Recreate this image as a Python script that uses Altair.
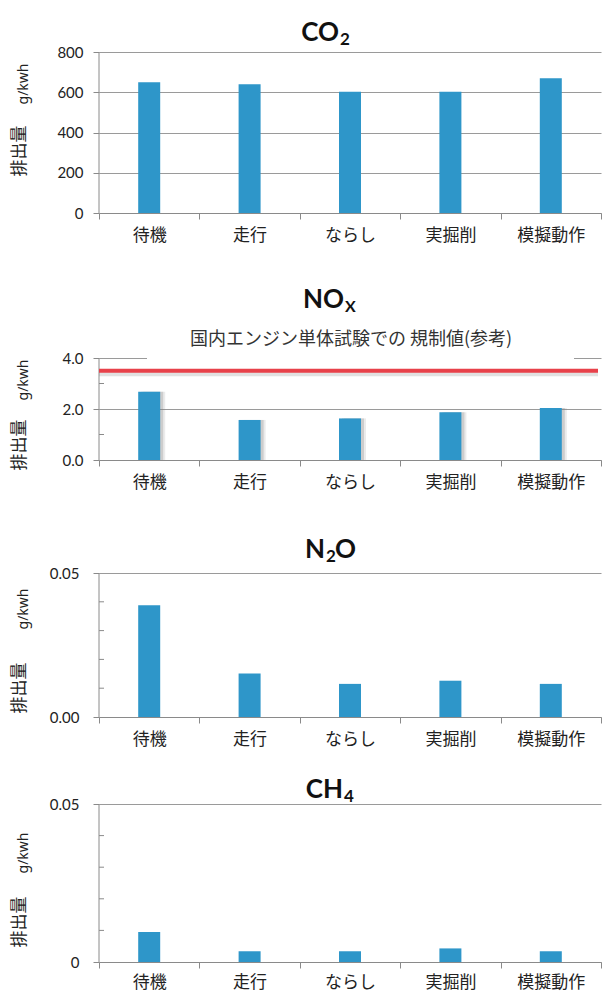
import altair as alt
import pandas as pd

# ---------------- data ----------------
categories = ["待機", "走行", "ならし", "実掘削", "模擬動作"]
co2_values = [650, 640, 603, 603, 670]
nox_values = [2.68, 1.57, 1.63, 1.87, 2.04]
n2o_values = [0.0388, 0.0151, 0.0115, 0.0126, 0.0115]
ch4_values = [0.0095, 0.0034, 0.0034, 0.0043, 0.0034]
nox_limit = [3.5]
nox_limit_label = "国内エンジン単体試験での 規制値(参考)"

co2_ticks = [0, 200, 400, 600, 800]
nox_ticks = [0, 2, 4]
nox_minor = [1, 3]
small_ticks = [0, 0.05]
small_minor = [0.01, 0.02, 0.03, 0.04]

y_title_main = "排出量"
y_title_unit = "g/kwh"

# ---------------- style ----------------
CJK = "Noto Sans CJK JP"
NUM = "Lato"
BAR = "#2E96C9"
AX = "#8a8a8a"
GRID = "#9a9a9a"
TXT = "#222222"
W = 502


def txt(s, x, y, size, align="center", bold=False, angle=None, font=NUM, color="#111111", baseline="middle"):
    kw = dict(fontSize=size, align=align, baseline=baseline, font=font, color=color)
    if bold:
        kw["fontWeight"] = "bold"
    if angle is not None:
        kw["angle"] = angle
    return alt.Chart(pd.DataFrame({"t": [s]})).mark_text(**kw).encode(
        text="t:N", x=alt.value(x), y=alt.value(y)
    )


def panel(values, dmax, ticks, minor, H, t, title_layers, yt_main_y, yt_unit_y,
          fmt=None, label_expr=None, label_pad=10, shadow=False, extra=None, xlabel_pad=8):
    df = pd.DataFrame({"cat": categories, "v": values})
    yscale = alt.Scale(domain=[0, dmax], range=[H, t], nice=False, zero=True)
    ax_kw = dict(title=None, values=ticks, grid=True, gridColor=GRID, gridWidth=1,
                 tickSize=6, labelPadding=label_pad, labelFont=NUM, labelFontSize=15,
                 labelColor=TXT, domain=False, tickColor=AX)
    if fmt:
        ax_kw["format"] = fmt
    if label_expr:
        ax_kw["labelExpr"] = label_expr
    yaxis = alt.Axis(**ax_kw)

    def Y(field="v:Q"):
        return alt.Y(field, scale=yscale, axis=yaxis)

    xenc = alt.X("cat:N", sort=categories,
                 scale=alt.Scale(paddingInner=0, paddingOuter=0),
                 axis=alt.Axis(title=None, labelAngle=0, tickBand="extent", tickSize=6,
                               labelPadding=xlabel_pad, labelFont=CJK, labelFontSize=17,
                               labelColor=TXT, domainColor=AX, tickColor=AX, grid=False))
    layers = []
    # y-axis line, spanning the value range only
    layers.append(alt.Chart(pd.DataFrame({"v": [0], "v2": [dmax]})).mark_rule(color=AX, strokeWidth=1).encode(
        y=Y(), y2="v2:Q", x=alt.value(0)))
    if shadow:
        layers.append(alt.Chart(df).mark_bar(size=22, color="#808080", opacity=0.28, xOffset=3).encode(
            x=xenc, y=Y()))
        layers.append(alt.Chart(df).mark_bar(size=22, color="#808080", opacity=0.16, xOffset=5).encode(
            x=xenc, y=Y()))
    layers.append(alt.Chart(df).mark_bar(size=22, color=BAR).encode(x=xenc, y=Y()))
    if minor:
        layers.append(alt.Chart(pd.DataFrame({"v": minor})).mark_rule(color=AX, strokeWidth=1).encode(
            y=Y(), x=alt.value(0), x2=alt.value(5)))
    if extra:
        layers.extend(extra(Y))
    layers.extend(title_layers)
    layers.append(txt(y_title_main, -79, yt_main_y, 17, angle=270, font=CJK, color="#222"))
    layers.append(txt(y_title_unit, -75, yt_unit_y, 14, angle=270, font="Noto Sans", color="#222"))
    return alt.layer(*layers).properties(width=W, height=H)


# ---------------- panels ----------------
p1 = panel(co2_values, 800, co2_ticks, None, 213, 52,
           [txt("CO", 240, 33, 26, align="right", bold=True),
            txt("2", 241, 40, 17, align="left", bold=True)],
           151, 84, fmt="d", label_pad=10)


def nox_extra(Y):
    lim = pd.DataFrame({"v": nox_limit})
    return [
        alt.Chart(lim).mark_rule(color="#777777", strokeWidth=5, opacity=0.22, yOffset=3).encode(
            y=Y(), x=alt.value(0), x2=alt.value(499)),
        alt.Chart(lim).mark_rule(color="#E8414A", strokeWidth=4).encode(
            y=Y(), x=alt.value(0), x2=alt.value(499)),
        alt.Chart(pd.DataFrame({"v": [4]})).mark_rule(color="white", strokeWidth=4).encode(
            y=Y(), x=alt.value(48), x2=alt.value(475)),
        txt(nox_limit_label, 252, 127, 18, font=CJK, color="#333"),
    ]


p2 = panel(nox_values, 4, nox_ticks, nox_minor, 247, 145,
           [txt("NO", 245, 87, 26, align="right", bold=True),
            txt("X", 246, 94, 16, align="left", bold=True)],
           232, 167, fmt=".1f", label_pad=10, shadow=True, extra=nox_extra)

p3 = panel(n2o_values, 0.05, small_ticks, small_minor, 257, 113,
           [txt("N", 226, 90, 26, align="right", bold=True),
            txt("2", 227, 97, 17, align="left", bold=True),
            txt("O", 236, 90, 26, align="left", bold=True)],
           228, 149, fmt=".2f", label_pad=14)

p4 = panel(ch4_values, 0.05, small_ticks, small_minor, 245, 87,
           [txt("CH", 244, 73, 26, align="right", bold=True),
            txt("4", 245, 80, 17, align="left", bold=True)],
           205, 136, label_expr="datum.value == 0 ? '0' : format(datum.value, '.2f')",
           label_pad=14, xlabel_pad=6)

chart = alt.vconcat(p1, p2, p3, p4, spacing=0, bounds="flush").properties(
    padding={"left": 11, "top": 0, "right": 0, "bottom": 33},
    background="white",
).configure_view(stroke=None)

chart.save("out.html", embed_options={"renderer": "svg", "actions": False})
